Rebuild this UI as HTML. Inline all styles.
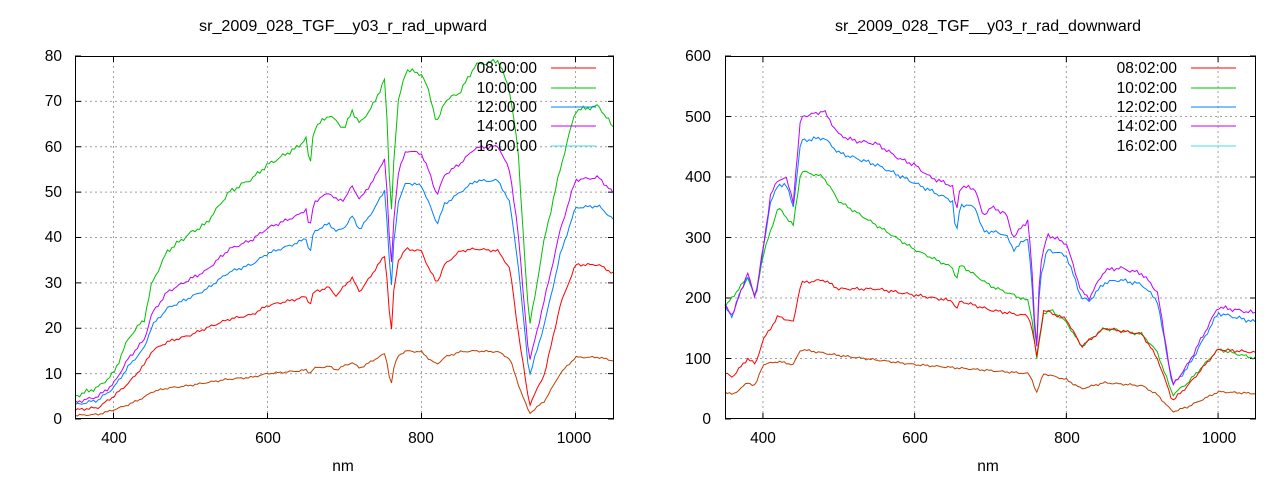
<!DOCTYPE html>
<html><head><meta charset="utf-8"><style>
html,body{margin:0;padding:0;background:#fff}
svg{display:block}
text{font-family:"Liberation Sans",sans-serif;font-size:15.5px;fill:#000}
</style></head><body>
<svg id="s" width="1280" height="480" xmlns="http://www.w3.org/2000/svg">
<g id="g"></g>
<text x="199" y="31" textLength="288" lengthAdjust="spacingAndGlyphs">sr_2009_028_TGF__y03_r_rad_upward</text>
<text x="835" y="31" textLength="306" lengthAdjust="spacingAndGlyphs">sr_2009_028_TGF__y03_r_rad_downward</text>
<text x="343" y="471" text-anchor="middle">nm</text>
<text x="988" y="471" text-anchor="middle">nm</text>
<g text-anchor="end">
<text x="62" y="424">0</text><text x="62" y="379">10</text><text x="62" y="333">20</text><text x="62" y="288">30</text><text x="62" y="242">40</text><text x="62" y="197">50</text><text x="62" y="152">60</text><text x="62" y="106">70</text><text x="62" y="61">80</text>
<text x="711" y="424">0</text><text x="711" y="364">100</text><text x="711" y="303">200</text><text x="711" y="243">300</text><text x="711" y="182">400</text><text x="711" y="122">500</text><text x="711" y="61">600</text>
<text x="537" y="73">08:00:00</text><text x="537" y="93">10:00:00</text><text x="537" y="112">12:00:00</text><text x="537" y="131">14:00:00</text><text x="537" y="151">16:00:00</text>
<text x="1177" y="73">08:02:00</text><text x="1177" y="93">10:02:00</text><text x="1177" y="112">12:02:00</text><text x="1177" y="131">14:02:00</text><text x="1177" y="151">16:02:00</text>
</g>
<g text-anchor="middle">
<text x="114" y="443">400</text><text x="268" y="443">600</text><text x="421" y="443">800</text><text x="574" y="443">1000</text>
<text x="763" y="443">400</text><text x="915" y="443">600</text><text x="1067" y="443">800</text><text x="1219" y="443">1000</text>
</g>
</svg>
<script>
var g=document.getElementById('g'),h='';
function L(x1,y1,x2,y2,st){h+='<line x1="'+x1+'" y1="'+y1+'" x2="'+x2+'" y2="'+y2+'" '+st+'/>';}
var grid='stroke="#a0a0a0" stroke-dasharray="2,3" stroke-width="1"';
function panel(x0,x1,y0,y1,ymax,ystep){
 var sx=(x1-x0)/700,sy=(y1-y0)/ymax;
 for(var nm=400;nm<=1000;nm+=200){var x=x0+(nm-350)*sx;L(x,y0,x,y1,grid);L(x,y1,x,y1-6,'stroke="#000"');L(x,y0,x,y0+6,'stroke="#000"');}
 for(var v=ystep;v<ymax;v+=ystep){var y=y1-v*sy;L(x0,y,x1,y,grid);}
 for(var v=0;v<=ymax;v+=ystep){var y=y1-v*sy;L(x0,y,x0+6,y,'stroke="#000"');L(x1,y,x1-6,y,'stroke="#000"');}
}
function interp(p,nm){for(var i=0;i<p.length-2;i+=2){if(nm<=p[i+2]){var t=(nm-p[i])/(p[i+2]-p[i]);return p[i+1]+t*(p[i+3]-p[i+1]);}}return p[p.length-1];}
function jit(nm,k){return Math.sin(nm*0.37+k)*0.5+Math.sin(nm*1.13+2*k)*0.5;}
function series(f,x0,x1,y0,y1,ymax,col,amp,k){
 var sx=(x1-x0)/700,sy=(y1-y0)/ymax,pts=[];
 for(var nm=350;nm<=1050;nm+=3){var v=f(nm)+amp*jit(nm,k);if(v<0)v=0;pts.push((x0+(nm-350)*sx).toFixed(1)+','+(y1-v*sy).toFixed(1));}
 h+='<polyline fill="none" stroke="'+col+'" stroke-width="1" points="'+pts.join(' ')+'"/>';
}
var LX0=75,LX1=614,Y0=56,Y1=419;
panel(LX0,LX1,Y0,Y1,80,10);
var G=[350,5,380,7,400,10,420,18,440,22,450,30,470,37,500,41,520,43,550,50,580,53,600,56,640,60,650,62,655,55,660,64,680,67,700,64,710,68,720,65,740,70,752,75,757,60,760,42,763,55,770,70,780,77,800,76,810,72,820,65,830,70,850,72,870,78,900,79,915,72,925,60,940,20,960,40,980,55,1000,68,1030,69,1050,64];
var R=[350,2,380,2.5,400,5,420,8,440,12,450,15,470,17,500,18.5,520,20,550,22,580,23,600,25,640,26.5,650,27,655,25,660,28,680,29,690,27,700,29.5,710,31,720,28,740,33,752,36,757,28,760,16,763,27,770,35,780,37.5,800,37,810,33,820,30,830,34,850,37,870,37.5,900,37,915,33,925,20,940,3,960,10,980,25,1000,34,1030,34,1050,32];
var fg=function(n){return interp(G,n)},fr=function(n){return interp(R,n)};
series(function(n){return fr(n)*0.4},LX0,LX1,Y0,Y1,80,'#c04000',0.25,1);
series(fr,LX0,LX1,Y0,Y1,80,'#ff0000',0.35,2);
series(function(n){return fr(n)+0.37*(fg(n)-fr(n))},LX0,LX1,Y0,Y1,80,'#0080ff',0.4,3);
series(function(n){return fr(n)+0.55*(fg(n)-fr(n))},LX0,LX1,Y0,Y1,80,'#c000ff',0.45,4);
series(fg,LX0,LX1,Y0,Y1,80,'#00c000',0.6,5);
var RX0=725,RX1=1256;
panel(RX0,RX1,Y0,Y1,600,100);
var P=[350,190,360,170,370,210,380,240,390,200,400,280,410,370,420,395,430,400,440,360,450,500,470,505,480,510,500,470,520,460,550,455,580,430,600,420,620,400,650,385,655,340,660,385,680,380,690,335,700,350,720,340,730,300,750,330,757,200,760,90,765,250,775,305,800,290,820,210,830,200,850,245,870,250,900,240,920,210,940,55,960,90,1000,185,1050,175];
var B=[350,185,360,170,370,210,380,235,390,200,400,275,410,360,420,385,430,390,440,350,450,460,480,465,500,440,550,420,600,390,650,360,655,300,660,355,680,350,690,310,700,310,720,305,730,280,750,300,757,180,760,90,765,230,775,280,800,270,820,200,830,195,850,225,870,230,900,222,920,195,940,55,960,85,1000,175,1050,160];
var Gr=[350,185,380,235,390,200,400,270,420,350,440,320,450,410,480,400,500,360,550,320,600,280,650,250,655,230,660,255,700,220,750,195,757,150,760,90,770,175,780,180,800,160,820,120,850,150,900,140,920,110,940,40,960,60,1000,115,1050,100];
var Rd=[350,75,360,70,380,100,390,90,400,130,420,170,440,160,450,225,480,230,500,215,550,215,600,205,650,195,655,180,660,195,700,180,750,170,757,140,760,95,770,180,800,165,820,120,850,150,900,140,920,100,940,30,960,55,1000,115,1050,110];
var Bn=[350,45,360,40,380,60,390,55,400,90,420,95,440,90,450,115,500,105,600,90,700,80,750,75,757,60,760,40,770,75,800,65,820,50,850,60,900,55,920,40,940,12,960,20,1000,45,1050,42];
series(function(n){return interp(Bn,n)},RX0,RX1,Y0,Y1,600,'#c04000',2,1);
series(function(n){return interp(Gr,n)},RX0,RX1,Y0,Y1,600,'#00c000',3,2);
series(function(n){return interp(Rd,n)},RX0,RX1,Y0,Y1,600,'#ff0000',3,3);
series(function(n){return interp(B,n)},RX0,RX1,Y0,Y1,600,'#0080ff',4,4);
series(function(n){return interp(P,n)},RX0,RX1,Y0,Y1,600,'#c000ff',4,5);
var cols=['#ff0000','#00c000','#0080ff','#c000ff','#40e0e0'],ys=[68,88,107,126,146];
for(var i=0;i<5;i++){L(551,ys[i],596,ys[i],'stroke="'+cols[i]+'"');L(1191,ys[i],1236,ys[i],'stroke="'+cols[i]+'"');}
h+='<rect x="75.5" y="56.5" width="538" height="362" fill="none" stroke="#000"/>';
h+='<rect x="725.5" y="56.5" width="530" height="362" fill="none" stroke="#000"/>';
g.innerHTML=h;
</script>
</body></html>
